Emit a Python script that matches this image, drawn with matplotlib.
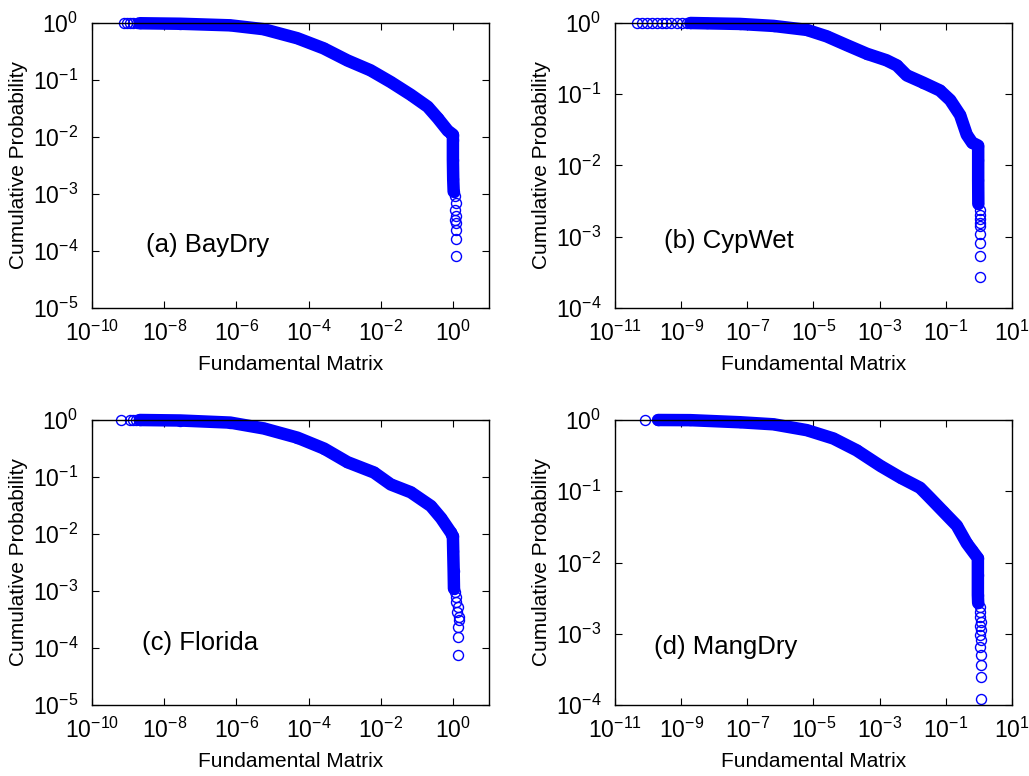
import numpy as np
import matplotlib
matplotlib.use("Agg")
import matplotlib.pyplot as plt
from matplotlib.ticker import FixedLocator, FuncFormatter, NullLocator

plt.rcParams['font.family'] = ['Liberation Sans', 'DejaVu Sans']
plt.rcParams['mathtext.default'] = 'regular'

# (a) BayDry
bay_head_x = [7.8e-10, 9.3e-10, 1.15e-9, 1.4e-9, 1.8e-9]
bay_head_y = [1.0, 1.0, 1.0, 1.0, 1.0]
bay_band_x = [2.1e-9, 2.8e-8, 6.8e-7, 5.6e-6, 4.9e-5, 2.6e-4, 1.2e-3, 5.2e-3, 0.019, 0.068,
              0.20, 0.38, 0.72, 1.0, 1.0, 1.0, 1.02, 1.05]
bay_band_y = [0.99, 0.97, 0.91, 0.78, 0.54, 0.36, 0.22, 0.148, 0.092, 0.055,
              0.034, 0.0214, 0.0129, 0.011, 0.0089, 0.004, 0.0018, 0.0011]
bay_tail_x = [1.12, 1.18, 1.14, 1.2, 1.16, 1.22, 1.2, 1.2, 1.2]
bay_tail_y = [9.1e-4, 6.9e-4, 5.2e-4, 4.1e-4, 3.5e-4, 3.1e-4, 2.3e-4, 1.6e-4, 8.1e-5]

# (b) CypWet
cyp_head_x = [4.6e-11, 6.5e-11, 9.1e-11, 1.3e-10, 1.8e-10, 2.6e-10, 3.6e-10, 5.1e-10, 7.4e-10, 1.05e-9, 1.5e-9]
cyp_head_y = [1.0] * 11
cyp_band_x = [1.9e-9, 5.9e-9, 6.0e-8, 6.2e-7, 6.3e-6, 2.5e-5, 1.0e-4, 4.1e-4, 1.6e-3, 3.3e-3,
              6.6e-3, 0.021, 0.066, 0.135, 0.27, 0.43, 0.62, 0.95, 0.95, 0.95, 0.96]
cyp_band_y = [1.0, 0.99, 0.97, 0.91, 0.80, 0.65, 0.49, 0.37, 0.30, 0.254,
              0.184, 0.145, 0.113, 0.083, 0.051, 0.027, 0.021, 0.019, 0.012, 0.0063, 0.0029]
cyp_tail_x = [1.05, 1.08, 1.06, 1.1, 1.07, 1.08, 1.08, 1.1, 1.1]
cyp_tail_y = [2.4e-3, 2.0e-3, 1.8e-3, 1.55e-3, 1.4e-3, 1.1e-3, 8.1e-4, 5.4e-4, 2.75e-4]

# (c) Florida
flo_head_x = [6.3e-10, 1.15e-9, 1.4e-9, 1.7e-9]
flo_head_y = [1.0, 1.0, 1.0, 1.0]
flo_band_x = [2.1e-9, 2.8e-8, 6.8e-7, 5.8e-6, 4.9e-5, 2.7e-4, 1.2e-3, 6.5e-3, 0.019, 0.068,
              0.245, 0.47, 0.87, 1.0, 1.02, 1.05, 1.07]
flo_band_y = [1.0, 0.98, 0.90, 0.71, 0.49, 0.315, 0.182, 0.12, 0.074, 0.054,
              0.031, 0.019, 0.0107, 0.0091, 0.005, 0.0022, 0.0011]
flo_tail_x = [1.15, 1.25, 1.2, 1.35, 1.3, 1.5, 1.45, 1.4, 1.4, 1.4]
flo_tail_y = [9.5e-4, 7.8e-4, 6.5e-4, 5.2e-4, 4.3e-4, 3.5e-4, 3.1e-4, 2.3e-4, 1.55e-4, 7.6e-5]

# (d) MangDry
man_head_x = [8.1e-11]
man_head_y = [1.0]
man_band_x = [2.0e-10, 1.9e-9, 6.0e-8, 6.2e-7, 6.3e-6, 4.0e-5, 2.0e-4, 1.07e-3, 4.3e-3, 0.0166,
              0.033, 0.083, 0.214, 0.43, 0.62, 0.93, 0.93, 0.93, 0.95]
man_band_y = [1.0, 0.995, 0.93, 0.87, 0.72, 0.55, 0.376, 0.226, 0.155, 0.112,
              0.081, 0.052, 0.033, 0.0186, 0.0148, 0.0115, 0.0066, 0.0035, 0.0027]
man_tail_x = [1.05, 1.1, 1.07, 1.12, 1.08, 1.13, 1.1, 1.12, 1.1, 1.13, 1.12, 1.12, 1.13]
man_tail_y = [2.4e-3, 2.0e-3, 1.74e-3, 1.48e-3, 1.29e-3, 1.12e-3, 9.5e-4, 8.1e-4, 6.5e-4, 5.0e-4,
              3.6e-4, 2.45e-4, 1.23e-4]

panels = [
    ("(a) BayDry", bay_head_x, bay_head_y, bay_band_x, bay_band_y, bay_tail_x, bay_tail_y,
     (-10, 1), (-5, 0), range(-10, 1, 2), (0.136, 0.222)),
    ("(b) CypWet", cyp_head_x, cyp_head_y, cyp_band_x, cyp_band_y, cyp_tail_x, cyp_tail_y,
     (-11, 1), (-4, 0), range(-11, 2, 2), (0.123, 0.234)),
    ("(c) Florida", flo_head_x, flo_head_y, flo_band_x, flo_band_y, flo_tail_x, flo_tail_y,
     (-10, 1), (-5, 0), range(-10, 1, 2), (0.125, 0.216)),
    ("(d) MangDry", man_head_x, man_head_y, man_band_x, man_band_y, man_tail_x, man_tail_y,
     (-11, 1), (-4, 0), range(-11, 2, 2), (0.098, 0.205)),
]

fig = plt.figure(figsize=(10.29, 7.76), dpi=100)
W, H = 1029.0, 776.0
boxes = [(92, 23), (615, 23), (92, 420), (615, 420)]

fmt = FuncFormatter(lambda v, p: r'$10^{%d}$' % int(round(np.log10(v))))

for (label, hx, hy, bx, by, tx, ty, xl, yl, xt, tpos), (left, top) in zip(panels, boxes):
    ax = fig.add_axes([left / W, 1 - (top + 285) / H, 397 / W, 285 / H])
    ax.set_xscale('log')
    ax.set_yscale('log')
    # dense part drawn as a thick band, every point also gets its open circle
    ax.plot(bx, by, '-', color='#0000ff', lw=9, solid_capstyle='round',
            solid_joinstyle='round', clip_on=False)
    ax.plot(hx + bx + tx, hy + by + ty, 'o', mfc='none', mec='#0000ff', ms=7.2, mew=1.0,
            clip_on=False)
    ax.set_xlim(10.0 ** xl[0], 10.0 ** xl[1])
    ax.set_ylim(10.0 ** yl[0], 10.0 ** yl[1])
    ax.xaxis.set_major_locator(FixedLocator([10.0 ** e for e in xt]))
    ax.yaxis.set_major_locator(FixedLocator([10.0 ** e for e in range(yl[0], yl[1] + 1)]))
    ax.xaxis.set_minor_locator(NullLocator())
    ax.yaxis.set_minor_locator(NullLocator())
    ax.xaxis.set_major_formatter(fmt)
    ax.yaxis.set_major_formatter(fmt)
    ax.tick_params(direction='in', top=True, right=True, length=5, width=0.8, labelsize=16.5)
    ax.tick_params(axis='x', pad=9)
    ax.tick_params(axis='y', pad=10)
    for s in ax.spines.values():
        s.set_linewidth(1.0)
        s.set_zorder(3)
    ax.set_xlabel('Fundamental Matrix', fontsize=15)
    ax.set_ylabel('Cumulative Probability', fontsize=15)
    ax.xaxis.set_label_coords(0.5, -0.165)
    ax.yaxis.set_label_coords(-0.16, 0.5)
    ax.text(tpos[0], tpos[1], label, transform=ax.transAxes, fontsize=18.5, va='center', ha='left')

fig.savefig('out.png', dpi=100)
